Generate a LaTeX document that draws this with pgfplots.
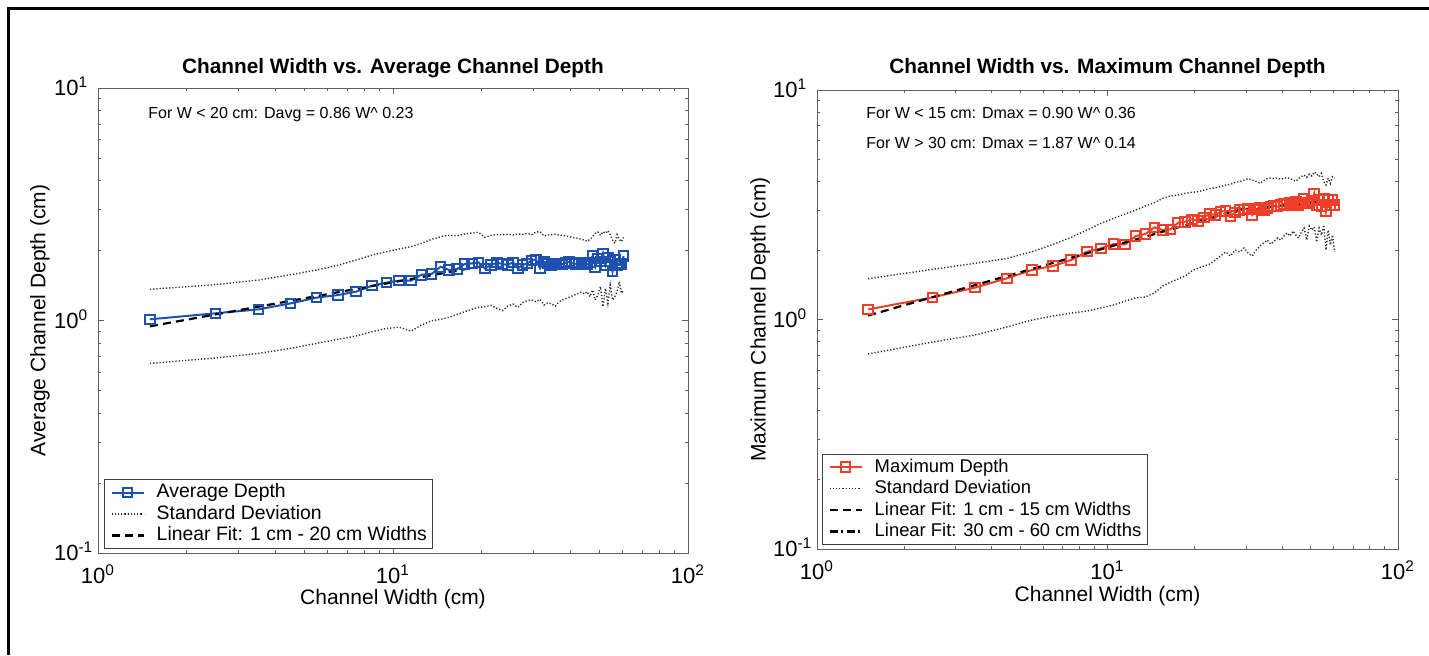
\documentclass[border=0pt]{standalone}
\usepackage{fontspec}
\setmainfont{Liberation Sans}
\usepackage{pgfplots}
\usepackage{pgfplotstable}
\pgfplotsset{compat=1.18}

\definecolor{avgblue}{RGB}{30,80,175}
\definecolor{maxred}{RGB}{240,62,40}
\definecolor{axgray}{RGB}{95,95,95}

% Average channel depth: bin width, mean depth, mean +/- one standard deviation
\pgfplotstableread{
W avg up lo
1.5 1.012 1.362 0.654
2.5 1.074 1.426 0.690
3.5 1.117 1.493 0.722
4.5 1.185 1.574 0.759
5.5 1.254 1.649 0.798
6.5 1.287 1.727 0.830
7.5 1.331 1.820 0.858
8.5 1.412 1.913 0.895
9.5 1.455 1.977 0.925
10.5 1.484 2.030 0.935
11.5 1.484 2.078 0.901
12.5 1.574 2.147 0.956
13.5 1.585 2.234 0.998
14.5 1.704 2.294 1.012
15.5 1.649 2.324 1.032
16.5 1.665 2.317 1.063
17.5 1.750 2.355 1.091
18.5 1.761 2.379 1.117
19.5 1.779 2.395 1.139
20.5 1.676 2.279 1.147
21.5 1.733 2.324 1.162
22.5 1.773 2.340 1.128
23.5 1.750 2.340 1.102
24.5 1.733 2.348 1.154
25.5 1.779 2.332 1.178
26.5 1.676 2.355 1.139
27.5 1.733 2.348 1.193
28.5 1.761 2.371 1.217
29.5 1.809 2.340 1.225
30.5 1.833 2.403 1.205
31.5 1.676 2.411 1.233
32.5 1.791 2.309 1.166
33.5 1.761 2.332 1.193
34.5 1.733 2.340 1.178
35.5 1.750 2.348 1.154
36.5 1.761 2.332 1.201
37.5 1.744 2.324 1.225
38.5 1.773 2.309 1.241
39.5 1.791 2.294 1.258
40.5 1.761 2.279 1.275
41.5 1.750 2.264 1.292
42.5 1.779 2.256 1.309
43.5 1.761 2.234 1.326
44.5 1.773 2.220 1.300
45.5 1.744 2.190 1.331
46.5 1.773 2.234 1.266
47.5 1.894 2.294 1.353
48.5 1.704 2.371 1.225
49.5 1.851 2.403 1.287
50.5 1.791 2.324 1.398
51.5 1.945 2.411 1.147
52.5 1.733 2.371 1.375
53.5 1.869 2.435 1.185
54.5 1.791 2.340 1.421
55.5 1.622 2.220 1.225
56.5 1.820 2.147 1.266
57.5 1.733 2.340 1.331
58.5 1.761 2.234 1.469
59.5 1.750 2.183 1.309
60.5 1.894 2.279 1.353
}\avgdata

% Maximum channel depth: bin width, maximum depth, +/- one standard deviation
\pgfplotstableread{
W max up lo
1.5 1.107 1.506 0.708
2.5 1.249 1.655 0.798
3.5 1.377 1.757 0.856
4.5 1.511 1.847 0.928
5.5 1.644 1.975 0.995
6.5 1.711 2.126 1.036
7.5 1.816 2.280 1.067
8.5 1.975 2.455 1.089
9.5 2.042 2.624 1.122
10.5 2.133 2.759 1.157
11.5 2.126 2.882 1.204
12.5 2.311 3.001 1.241
13.5 2.358 3.124 1.253
14.5 2.521 3.230 1.305
15.5 2.455 3.373 1.400
16.5 2.471 3.453 1.457
17.5 2.642 3.488 1.501
18.5 2.668 3.546 1.547
19.5 2.732 3.582 1.627
20.5 2.695 3.606 1.677
21.5 2.787 3.667 1.711
22.5 2.882 3.716 1.745
23.5 2.853 3.753 1.817
24.5 2.951 3.791 1.891
25.5 2.971 3.855 1.969
26.5 2.825 3.881 1.891
27.5 2.922 3.960 2.009
28.5 3.001 3.986 1.969
29.5 3.021 4.054 2.049
30.5 3.051 4.108 1.949
31.5 2.853 4.054 1.891
32.5 3.021 4.000 2.009
33.5 3.082 3.920 2.091
34.5 3.001 4.027 2.154
35.5 3.051 4.108 2.220
36.5 3.103 4.136 2.133
37.5 3.124 4.108 2.198
38.5 3.103 4.136 2.265
39.5 3.155 4.081 2.220
40.5 3.187 4.122 2.311
41.5 3.155 4.150 2.382
42.5 3.230 4.108 2.311
43.5 3.208 4.054 2.430
44.5 3.263 4.000 2.334
45.5 3.155 4.122 2.265
46.5 3.208 4.191 2.406
47.5 3.373 4.262 2.504
48.5 3.230 4.163 2.220
49.5 3.208 4.305 2.555
50.5 3.295 4.220 2.455
51.5 3.546 4.392 2.530
52.5 3.155 4.305 2.176
53.5 3.318 4.191 2.504
54.5 3.103 4.334 2.334
55.5 3.373 3.986 2.581
56.5 2.951 3.855 2.009
57.5 3.318 4.122 2.455
58.5 3.155 3.920 2.112
59.5 3.318 4.191 2.334
60.5 3.155 4.122 1.969
}\maxdata

% Line styles shared by both panels
\tikzset{
  stddev/.style={black!85, line width=0.7pt, dash pattern=on 0.6pt off 1.0pt},
  fitdash/.style={black, line width=1.1pt, dash pattern=on 4pt off 2.6pt},
  fitdashdot/.style={black, line width=1.1pt, dash pattern=on 4pt off 1.8pt on 1pt off 1.8pt},
  depthmark/.style={line width=1pt, mark=square, mark size=2.4pt, mark options={solid, line width=1pt}},
}

% Log-log panel appearance shared by both axes
\pgfplotsset{
  every axis/.append style={
    scale only axis,
    axis line style={axgray, line width=0.5pt},
    tick style={axgray, line width=0.45pt},
    tick align=inside,
    major tick length=3pt, minor tick length=1.7pt,
    xtick={1,10,100}, ytick={0.1,1,10},
    minor xtick={2,3,4,5,6,7,8,9,20,30,40,50,60,70,80,90},
    minor ytick={0.2,0.3,0.4,0.5,0.6,0.7,0.8,0.9,2,3,4,5,6,7,8,9},
    xticklabels={10\textsuperscript{0},10\textsuperscript{1},10\textsuperscript{2}},
    yticklabels={10\rlap{\textsuperscript{-1}},10\rlap{\textsuperscript{0}},10\rlap{\textsuperscript{1}}},
    tick label style={font=\fontsize{11}{13}\selectfont, inner sep=0pt},
    xticklabel style={anchor=base, yshift=-15pt},
    yticklabel style={anchor=base east, xshift=-9.5pt, yshift=-3.9pt},
    label style={font=\fontsize{10.5}{12.5}\selectfont},
    title style={font=\bfseries\fontsize{10.4}{12.5}\selectfont, at={(0.5,1)}, anchor=base, inner sep=0pt},
    legend cell align=left,
    legend style={draw=black!75, line width=0.5pt, fill=white,
      font=\fontsize{9.7}{11}\selectfont, inner xsep=3pt, inner ysep=2pt,
      row sep=1.75pt, column sep=6pt,
      nodes={inner sep=0pt, text height=7pt, text depth=2pt},
      anchor=south west},
  },
  legend image code/.code={%
    \draw[mark repeat=2,mark phase=2,#1] plot coordinates {(0pt,0pt) (8pt,0pt) (16pt,0pt)};},
}

\begin{document}
\begin{tikzpicture}
\useasboundingbox (0pt,0pt) rectangle (714.5pt,-327.5pt);
\draw[line width=1.5pt] (4pt,-327.5pt) -- (4pt,-4pt) -- (714.5pt,-4pt);

% Left panel: average channel depth
\begin{loglogaxis}[
  anchor=north west,
  at={(49pt,-44pt)}, width=295pt, height=232.5pt,
  xmin=1, xmax=100, ymin=0.1, ymax=10,
  title={Channel Width vs. Average Channel Depth},
  title style={yshift=1.25pt},
  xlabel={Channel Width (cm)}, ylabel={Average Channel Depth (cm)},
  xlabel style={at={(axis description cs:0.5,0)}, anchor=base, yshift=-25.75pt},
  ylabel style={at={(axis description cs:-0.089,0.5)}, anchor=base},
  legend style={at={(0.0102,0.0086)}},
]
\addplot[avgblue, depthmark] table[x=W, y=avg] {\avgdata};
\addlegendentry{Average Depth}
\addplot[stddev] table[x=W, y=up] {\avgdata};
\addlegendentry{Standard Deviation}
\addplot[stddev, forget plot] table[x=W, y=lo] {\avgdata};
\addplot[fitdash] coordinates {(1.5,0.944) (19.5,1.703)};
\addlegendentry{Linear Fit: 1 cm - 20 cm Widths}
\node[anchor=base west, inner sep=0pt, font=\fontsize{8}{9.6}\selectfont]
  at (rel axis cs:0.0847,0.9338) {For W < 20 cm: Davg = 0.86 W\textasciicircum\ 0.23};
\end{loglogaxis}

% Right panel: maximum channel depth
\begin{loglogaxis}[
  anchor=north west,
  at={(408.5pt,-45pt)}, width=290.5pt, height=229.5pt,
  xmin=1, xmax=100, ymin=0.1, ymax=10,
  title={Channel Width vs. Maximum Channel Depth},
  title style={yshift=2.25pt},
  xlabel={Channel Width (cm)}, ylabel={Maximum Channel Depth (cm)},
  xlabel style={at={(axis description cs:0.5,0)}, anchor=base, yshift=-26.25pt},
  ylabel style={at={(axis description cs:-0.0886,0.5)}, anchor=base},
  legend style={at={(0.0086,0.0087)}, font=\fontsize{9.2}{11}\selectfont},
]
\addplot[maxred, depthmark] table[x=W, y=max] {\maxdata};
\addlegendentry{Maximum Depth}
\addplot[stddev] table[x=W, y=up] {\maxdata};
\addlegendentry{Standard Deviation}
\addplot[stddev, forget plot] table[x=W, y=lo] {\maxdata};
\addplot[fitdash] coordinates {(1.5,1.041) (30,3.062)};
\addlegendentry{Linear Fit: 1 cm - 15 cm Widths}
\addplot[fitdashdot] coordinates {(30,3.011) (60.5,3.321)};
\addlegendentry{Linear Fit: 30 cm - 60 cm Widths}
\node[anchor=base west, inner sep=0pt, font=\fontsize{8}{9.6}\selectfont]
  at (rel axis cs:0.0843,0.9373) {For W < 15 cm: Dmax = 0.90 W\textasciicircum\ 0.36};
\node[anchor=base west, inner sep=0pt, font=\fontsize{8}{9.6}\selectfont]
  at (rel axis cs:0.0843,0.8719) {For W > 30 cm: Dmax = 1.87 W\textasciicircum\ 0.14};
\end{loglogaxis}
\end{tikzpicture}
\end{document}
